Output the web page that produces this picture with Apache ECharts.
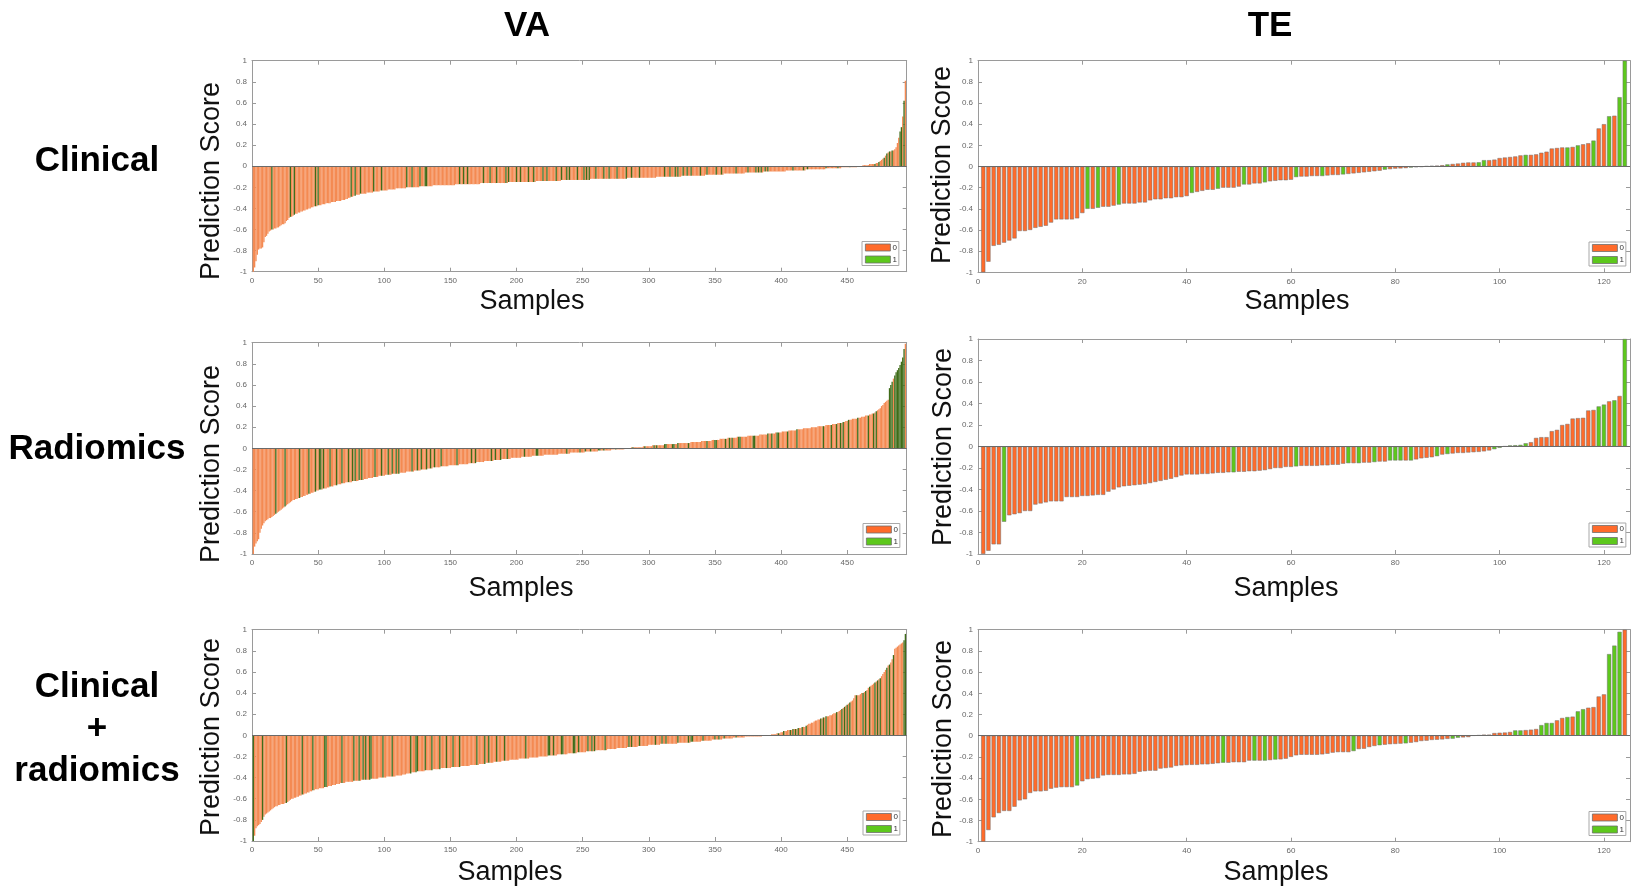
<!DOCTYPE html>
<html>
<head>
<meta charset="utf-8">
<script src="https://cdn.jsdelivr.net/npm/echarts@6/dist/echarts.min.js"></script>
<style>
html,body{margin:0;padding:0;background:#fff;}
#chart{width:1633px;height:888px;}
</style>
</head>
<body>
<div id="chart"></div>
<script>
// ---- tick labels ----
const scoreTicks = [-1, -0.8, -0.6, -0.4, -0.2, 0, 0.2, 0.4, 0.6, 0.8, 1];
const vaTicks = [0, 50, 100, 150, 200, 250, 300, 350, 400, 450];
const teTicks = [0, 20, 40, 60, 80, 100, 120];
const cohorts = ['VA', 'TE'];
const models = ['Clinical', 'Radiomics', 'Clinical\n+\nradiomics'];
const classNames = ['0', '1'];

// ---- sorted prediction scores, VA cohort (494 samples) ----
const vaClinical = [
-1.00,-0.96,-0.90,-0.84,-0.79,-0.78,-0.78,-0.77,-0.72,-0.67,
-0.66,-0.64,-0.62,-0.61,-0.60,-0.60,-0.59,-0.59,-0.58,-0.58,
-0.57,-0.56,-0.55,-0.55,-0.54,-0.52,-0.51,-0.49,-0.48,-0.48,
-0.47,-0.46,-0.45,-0.45,-0.44,-0.44,-0.43,-0.43,-0.42,-0.42,
-0.41,-0.41,-0.40,-0.40,-0.39,-0.39,-0.38,-0.38,-0.38,-0.37,
-0.37,-0.37,-0.36,-0.36,-0.36,-0.35,-0.35,-0.35,-0.35,-0.34,
-0.34,-0.34,-0.34,-0.33,-0.33,-0.33,-0.33,-0.32,-0.32,-0.32,
-0.31,-0.31,-0.30,-0.30,-0.29,-0.29,-0.28,-0.28,-0.27,-0.27,
-0.27,-0.26,-0.26,-0.26,-0.26,-0.26,-0.25,-0.25,-0.25,-0.25,
-0.25,-0.24,-0.24,-0.24,-0.24,-0.24,-0.23,-0.23,-0.23,-0.23,
-0.23,-0.23,-0.22,-0.22,-0.22,-0.22,-0.22,-0.22,-0.21,-0.21,
-0.21,-0.21,-0.21,-0.21,-0.21,-0.21,-0.20,-0.20,-0.20,-0.20,
-0.20,-0.20,-0.20,-0.20,-0.20,-0.20,-0.19,-0.19,-0.19,-0.19,
-0.19,-0.19,-0.19,-0.19,-0.19,-0.19,-0.18,-0.18,-0.18,-0.18,
-0.18,-0.18,-0.18,-0.18,-0.18,-0.18,-0.18,-0.18,-0.18,-0.18,
-0.18,-0.18,-0.18,-0.17,-0.17,-0.17,-0.17,-0.17,-0.17,-0.17,
-0.17,-0.17,-0.17,-0.17,-0.17,-0.17,-0.17,-0.17,-0.17,-0.17,
-0.17,-0.17,-0.16,-0.16,-0.16,-0.16,-0.16,-0.16,-0.16,-0.16,
-0.16,-0.16,-0.16,-0.16,-0.16,-0.16,-0.16,-0.16,-0.16,-0.16,
-0.16,-0.16,-0.16,-0.15,-0.15,-0.15,-0.15,-0.15,-0.15,-0.15,
-0.15,-0.15,-0.15,-0.15,-0.15,-0.15,-0.15,-0.15,-0.15,-0.15,
-0.15,-0.15,-0.15,-0.15,-0.14,-0.14,-0.14,-0.14,-0.14,-0.14,
-0.14,-0.14,-0.14,-0.14,-0.14,-0.14,-0.14,-0.14,-0.14,-0.14,
-0.14,-0.14,-0.14,-0.13,-0.13,-0.13,-0.13,-0.13,-0.13,-0.13,
-0.13,-0.13,-0.13,-0.13,-0.13,-0.13,-0.13,-0.13,-0.13,-0.13,
-0.13,-0.13,-0.13,-0.13,-0.13,-0.12,-0.12,-0.12,-0.12,-0.12,
-0.12,-0.12,-0.12,-0.12,-0.12,-0.12,-0.12,-0.12,-0.12,-0.12,
-0.12,-0.12,-0.12,-0.12,-0.12,-0.12,-0.12,-0.12,-0.12,-0.12,
-0.12,-0.12,-0.12,-0.11,-0.11,-0.11,-0.11,-0.11,-0.11,-0.11,
-0.11,-0.11,-0.11,-0.11,-0.11,-0.11,-0.11,-0.11,-0.11,-0.11,
-0.11,-0.11,-0.11,-0.11,-0.11,-0.10,-0.10,-0.10,-0.10,-0.10,
-0.10,-0.10,-0.10,-0.10,-0.10,-0.10,-0.10,-0.10,-0.10,-0.10,
-0.10,-0.10,-0.10,-0.10,-0.09,-0.09,-0.09,-0.09,-0.09,-0.09,
-0.09,-0.09,-0.09,-0.09,-0.09,-0.09,-0.09,-0.09,-0.09,-0.09,
-0.09,-0.09,-0.08,-0.08,-0.08,-0.08,-0.08,-0.08,-0.08,-0.08,
-0.08,-0.08,-0.08,-0.08,-0.08,-0.08,-0.07,-0.07,-0.07,-0.07,
-0.07,-0.07,-0.07,-0.07,-0.07,-0.07,-0.07,-0.07,-0.07,-0.07,
-0.07,-0.07,-0.06,-0.06,-0.06,-0.06,-0.06,-0.06,-0.06,-0.06,
-0.06,-0.06,-0.06,-0.06,-0.06,-0.06,-0.05,-0.05,-0.05,-0.05,
-0.05,-0.05,-0.05,-0.05,-0.05,-0.05,-0.05,-0.05,-0.05,-0.05,
-0.05,-0.05,-0.05,-0.04,-0.04,-0.04,-0.04,-0.04,-0.04,-0.04,
-0.04,-0.04,-0.04,-0.04,-0.04,-0.04,-0.04,-0.04,-0.03,-0.03,
-0.03,-0.03,-0.03,-0.03,-0.03,-0.03,-0.03,-0.03,-0.03,-0.03,
-0.03,-0.03,-0.03,-0.02,-0.02,-0.02,-0.02,-0.02,-0.02,-0.02,
-0.02,-0.02,-0.02,-0.02,-0.02,-0.01,-0.01,-0.01,-0.01,-0.01,
-0.01,-0.01,-0.01,-0.01,-0.01,-0.01,-0.01,0.00,0.00,0.00,
0.00,0.01,0.01,0.01,0.01,0.01,0.02,0.02,0.02,0.02,
0.02,0.03,0.03,0.04,0.05,0.06,0.07,0.08,0.10,0.12,
0.13,0.14,0.14,0.15,0.15,0.16,0.18,0.22,0.27,0.33,
0.37,0.47,0.62,0.81
];
const vaClinicalPos = [15,29,32,48,50,75,78,82,92,98,117,121,127,131,132,157,160,163,175,180,185,192,194,200,203,209,213,220,223,230,234,238,240,246,251,253,255,260,266,270,276,283,287,293,312,316,320,322,326,329,332,339,344,351,355,366,375,381,383,385,388,390,409,417,420,434,443,452,471,474,478,480,482,484,490,491,493];

const vaRadiomics = [
-1.00,-0.93,-0.90,-0.88,-0.86,-0.80,-0.76,-0.73,-0.71,-0.69,
-0.68,-0.67,-0.66,-0.66,-0.65,-0.64,-0.63,-0.62,-0.61,-0.60,
-0.59,-0.58,-0.57,-0.56,-0.55,-0.54,-0.53,-0.52,-0.51,-0.50,
-0.49,-0.49,-0.48,-0.48,-0.47,-0.47,-0.46,-0.46,-0.45,-0.45,
-0.44,-0.44,-0.43,-0.43,-0.42,-0.42,-0.41,-0.41,-0.40,-0.40,
-0.39,-0.39,-0.39,-0.38,-0.38,-0.38,-0.37,-0.37,-0.36,-0.36,
-0.36,-0.35,-0.35,-0.35,-0.34,-0.34,-0.34,-0.33,-0.33,-0.33,
-0.32,-0.32,-0.32,-0.32,-0.32,-0.31,-0.31,-0.31,-0.31,-0.31,
-0.30,-0.30,-0.30,-0.30,-0.29,-0.29,-0.29,-0.28,-0.28,-0.28,
-0.28,-0.27,-0.27,-0.27,-0.27,-0.26,-0.26,-0.26,-0.26,-0.26,
-0.25,-0.25,-0.25,-0.25,-0.25,-0.24,-0.24,-0.24,-0.24,-0.24,
-0.24,-0.23,-0.23,-0.23,-0.23,-0.23,-0.22,-0.22,-0.22,-0.22,
-0.22,-0.22,-0.21,-0.21,-0.21,-0.21,-0.21,-0.20,-0.20,-0.20,
-0.20,-0.20,-0.19,-0.19,-0.19,-0.19,-0.18,-0.18,-0.18,-0.18,
-0.18,-0.18,-0.17,-0.17,-0.17,-0.17,-0.17,-0.17,-0.16,-0.16,
-0.16,-0.16,-0.16,-0.16,-0.16,-0.16,-0.15,-0.15,-0.15,-0.15,
-0.15,-0.15,-0.15,-0.14,-0.14,-0.14,-0.14,-0.14,-0.14,-0.13,
-0.13,-0.13,-0.13,-0.13,-0.13,-0.12,-0.12,-0.12,-0.12,-0.12,
-0.12,-0.12,-0.11,-0.11,-0.11,-0.11,-0.11,-0.11,-0.10,-0.10,
-0.10,-0.10,-0.10,-0.10,-0.10,-0.09,-0.09,-0.09,-0.09,-0.09,
-0.09,-0.09,-0.09,-0.08,-0.08,-0.08,-0.08,-0.08,-0.08,-0.08,
-0.08,-0.07,-0.07,-0.07,-0.07,-0.07,-0.07,-0.07,-0.07,-0.07,
-0.06,-0.06,-0.06,-0.06,-0.06,-0.06,-0.06,-0.06,-0.06,-0.06,
-0.06,-0.05,-0.05,-0.05,-0.05,-0.05,-0.05,-0.05,-0.05,-0.05,
-0.04,-0.04,-0.04,-0.04,-0.04,-0.04,-0.04,-0.04,-0.04,-0.04,
-0.04,-0.03,-0.03,-0.03,-0.03,-0.03,-0.03,-0.03,-0.03,-0.03,
-0.03,-0.02,-0.02,-0.02,-0.02,-0.02,-0.02,-0.02,-0.02,-0.02,
-0.02,-0.01,-0.01,-0.01,-0.01,-0.01,-0.01,-0.01,-0.01,-0.01,
-0.01,0.00,0.00,0.00,0.00,0.00,0.01,0.01,0.01,0.01,
0.01,0.01,0.01,0.01,0.01,0.02,0.02,0.02,0.02,0.02,
0.02,0.02,0.03,0.03,0.03,0.03,0.03,0.03,0.03,0.03,
0.03,0.04,0.04,0.04,0.04,0.04,0.04,0.04,0.04,0.04,
0.04,0.05,0.05,0.05,0.05,0.05,0.05,0.05,0.05,0.05,
0.05,0.06,0.06,0.06,0.06,0.06,0.06,0.06,0.06,0.07,
0.07,0.07,0.07,0.07,0.07,0.07,0.07,0.08,0.08,0.08,
0.08,0.08,0.08,0.09,0.09,0.09,0.09,0.09,0.09,0.10,
0.10,0.10,0.10,0.10,0.10,0.10,0.11,0.11,0.11,0.11,
0.11,0.11,0.11,0.11,0.12,0.12,0.12,0.12,0.12,0.12,
0.12,0.12,0.12,0.13,0.13,0.13,0.13,0.13,0.13,0.14,
0.14,0.14,0.14,0.14,0.14,0.15,0.15,0.15,0.15,0.15,
0.16,0.16,0.16,0.16,0.16,0.17,0.17,0.17,0.17,0.17,
0.17,0.18,0.18,0.18,0.18,0.18,0.19,0.19,0.19,0.19,
0.19,0.19,0.20,0.20,0.20,0.20,0.20,0.21,0.21,0.21,
0.21,0.21,0.21,0.22,0.22,0.22,0.22,0.22,0.23,0.23,
0.23,0.23,0.24,0.24,0.24,0.24,0.25,0.25,0.26,0.26,
0.27,0.27,0.27,0.28,0.28,0.28,0.28,0.29,0.29,0.29,
0.30,0.30,0.30,0.31,0.31,0.31,0.32,0.32,0.33,0.33,
0.34,0.35,0.36,0.37,0.38,0.40,0.41,0.43,0.44,0.45,
0.46,0.57,0.60,0.63,0.66,0.69,0.72,0.74,0.76,0.79,
0.82,0.86,0.94,0.99
];
const vaRadiomicsPos = [18,25,36,43,48,51,52,54,59,64,68,73,76,78,81,83,93,98,103,106,109,111,121,125,128,132,135,138,143,155,166,169,181,184,188,193,206,215,216,238,248,252,256,262,263,266,275,288,297,304,306,312,313,318,319,322,330,344,350,351,358,361,363,368,369,379,380,390,393,397,398,405,412,432,438,442,445,447,451,458,466,470,472,482,483,484,486,487,488,489,490,491,492,493];

const vaCombined = [
-1.00,-0.95,-0.88,-0.86,-0.85,-0.84,-0.82,-0.80,-0.77,-0.75,
-0.74,-0.73,-0.72,-0.71,-0.70,-0.69,-0.68,-0.67,-0.67,-0.66,
-0.66,-0.65,-0.65,-0.65,-0.64,-0.64,-0.63,-0.62,-0.61,-0.60,
-0.60,-0.59,-0.59,-0.58,-0.58,-0.57,-0.57,-0.56,-0.56,-0.55,
-0.55,-0.54,-0.54,-0.53,-0.53,-0.52,-0.52,-0.51,-0.51,-0.51,
-0.50,-0.50,-0.50,-0.50,-0.49,-0.49,-0.49,-0.48,-0.48,-0.48,
-0.47,-0.47,-0.47,-0.46,-0.46,-0.46,-0.45,-0.45,-0.45,-0.45,
-0.44,-0.44,-0.44,-0.44,-0.44,-0.44,-0.43,-0.43,-0.43,-0.43,
-0.43,-0.43,-0.42,-0.42,-0.42,-0.42,-0.42,-0.42,-0.42,-0.41,
-0.41,-0.41,-0.41,-0.41,-0.41,-0.40,-0.40,-0.40,-0.40,-0.40,
-0.40,-0.39,-0.39,-0.39,-0.39,-0.39,-0.39,-0.39,-0.38,-0.38,
-0.38,-0.38,-0.38,-0.37,-0.37,-0.37,-0.36,-0.36,-0.36,-0.36,
-0.35,-0.35,-0.35,-0.35,-0.34,-0.34,-0.34,-0.34,-0.34,-0.34,
-0.33,-0.33,-0.33,-0.33,-0.33,-0.33,-0.32,-0.32,-0.32,-0.32,
-0.32,-0.32,-0.31,-0.31,-0.31,-0.31,-0.31,-0.31,-0.31,-0.31,
-0.30,-0.30,-0.30,-0.30,-0.30,-0.30,-0.30,-0.29,-0.29,-0.29,
-0.29,-0.29,-0.29,-0.29,-0.28,-0.28,-0.28,-0.28,-0.28,-0.28,
-0.28,-0.27,-0.27,-0.27,-0.27,-0.27,-0.26,-0.26,-0.26,-0.26,
-0.26,-0.26,-0.25,-0.25,-0.25,-0.25,-0.25,-0.25,-0.24,-0.24,
-0.24,-0.24,-0.24,-0.24,-0.23,-0.23,-0.23,-0.23,-0.23,-0.23,
-0.23,-0.22,-0.22,-0.22,-0.22,-0.22,-0.22,-0.22,-0.22,-0.21,
-0.21,-0.21,-0.21,-0.21,-0.21,-0.21,-0.20,-0.20,-0.20,-0.20,
-0.20,-0.20,-0.20,-0.19,-0.19,-0.19,-0.19,-0.19,-0.19,-0.19,
-0.18,-0.18,-0.18,-0.18,-0.18,-0.18,-0.18,-0.18,-0.17,-0.17,
-0.17,-0.17,-0.17,-0.17,-0.17,-0.16,-0.16,-0.16,-0.16,-0.16,
-0.16,-0.16,-0.15,-0.15,-0.15,-0.15,-0.15,-0.15,-0.15,-0.14,
-0.14,-0.14,-0.14,-0.14,-0.14,-0.14,-0.14,-0.14,-0.13,-0.13,
-0.13,-0.13,-0.13,-0.13,-0.13,-0.12,-0.12,-0.12,-0.12,-0.12,
-0.12,-0.12,-0.12,-0.11,-0.11,-0.11,-0.11,-0.11,-0.11,-0.11,
-0.11,-0.10,-0.10,-0.10,-0.10,-0.10,-0.10,-0.10,-0.10,-0.09,
-0.09,-0.09,-0.09,-0.09,-0.09,-0.09,-0.09,-0.09,-0.08,-0.08,
-0.08,-0.08,-0.08,-0.08,-0.08,-0.08,-0.08,-0.08,-0.08,-0.08,
-0.08,-0.07,-0.07,-0.07,-0.07,-0.07,-0.07,-0.07,-0.07,-0.07,
-0.07,-0.06,-0.06,-0.06,-0.06,-0.06,-0.06,-0.06,-0.06,-0.05,
-0.05,-0.05,-0.05,-0.05,-0.05,-0.05,-0.05,-0.04,-0.04,-0.04,
-0.04,-0.04,-0.04,-0.04,-0.04,-0.03,-0.03,-0.03,-0.03,-0.03,
-0.03,-0.03,-0.03,-0.02,-0.02,-0.02,-0.02,-0.02,-0.02,-0.02,
-0.02,-0.02,-0.01,-0.01,-0.01,-0.01,-0.01,-0.01,-0.01,-0.01,
-0.01,-0.01,-0.01,-0.01,-0.01,0.00,0.00,0.00,0.00,0.00,
0.00,0.00,0.01,0.01,0.01,0.01,0.02,0.02,0.02,0.03,
0.03,0.04,0.04,0.04,0.05,0.05,0.05,0.05,0.06,0.06,
0.06,0.06,0.07,0.07,0.07,0.08,0.08,0.08,0.09,0.10,
0.11,0.11,0.12,0.12,0.13,0.14,0.14,0.15,0.15,0.16,
0.16,0.17,0.17,0.18,0.18,0.18,0.19,0.19,0.20,0.21,
0.21,0.22,0.22,0.23,0.24,0.25,0.26,0.27,0.28,0.29,
0.30,0.31,0.32,0.33,0.35,0.38,0.38,0.38,0.38,0.39,
0.40,0.40,0.41,0.42,0.43,0.45,0.46,0.47,0.48,0.49,
0.50,0.51,0.52,0.53,0.54,0.56,0.58,0.60,0.62,0.64,
0.66,0.67,0.69,0.72,0.76,0.82,0.83,0.84,0.85,0.86,
0.87,0.88,0.90,0.96
];
const vaCombinedPos = [1,8,26,38,46,55,56,68,77,81,84,86,89,90,99,106,120,124,125,131,136,142,147,152,157,170,176,179,185,191,207,224,225,228,234,235,243,244,247,254,257,259,267,285,287,293,305,310,313,322,330,332,333,341,350,353,357,366,398,402,407,409,411,413,416,419,430,432,434,442,446,448,450,452,457,462,464,467,471,473,475,480,482,485,493,494];

// ---- sorted prediction scores, TE cohort (124 samples) ----
const teClinical = [
-1.00,-0.90,-0.75,-0.74,-0.72,-0.70,-0.68,-0.61,-0.61,-0.60,
-0.58,-0.57,-0.56,-0.53,-0.50,-0.50,-0.50,-0.50,-0.49,-0.44,
-0.40,-0.40,-0.39,-0.38,-0.38,-0.37,-0.36,-0.35,-0.35,-0.35,
-0.34,-0.34,-0.32,-0.31,-0.31,-0.30,-0.30,-0.29,-0.29,-0.28,
-0.25,-0.24,-0.23,-0.22,-0.22,-0.21,-0.20,-0.20,-0.20,-0.19,
-0.17,-0.17,-0.16,-0.16,-0.15,-0.14,-0.135,-0.13,-0.13,-0.125,
-0.10,-0.095,-0.095,-0.09,-0.09,-0.09,-0.085,-0.08,-0.08,-0.075,
-0.07,-0.065,-0.06,-0.055,-0.05,-0.045,-0.04,-0.03,-0.025,-0.02,
-0.018,-0.015,-0.01,-0.006,-0.003,0.003,0.006,0.008,0.012,0.02,
0.024,0.028,0.035,0.038,0.038,0.04,0.06,0.06,0.065,0.08,
0.085,0.09,0.095,0.105,0.11,0.11,0.115,0.13,0.14,0.17,
0.175,0.18,0.18,0.185,0.20,0.21,0.22,0.245,0.36,0.40,
0.475,0.48,0.655,1.00
];
const teClinicalPos = [21,23,27,41,46,51,55,61,66,70,78,83,90,96,97,105,113,115,118,121,123,124];

const teRadiomics = [
-1.00,-0.97,-0.91,-0.91,-0.70,-0.64,-0.63,-0.62,-0.60,-0.60,
-0.54,-0.53,-0.52,-0.51,-0.51,-0.51,-0.47,-0.47,-0.47,-0.46,
-0.46,-0.455,-0.45,-0.45,-0.42,-0.40,-0.38,-0.37,-0.365,-0.36,
-0.355,-0.35,-0.34,-0.33,-0.32,-0.31,-0.30,-0.285,-0.27,-0.26,
-0.26,-0.26,-0.255,-0.255,-0.25,-0.245,-0.245,-0.24,-0.24,-0.235,
-0.235,-0.23,-0.23,-0.225,-0.22,-0.21,-0.20,-0.20,-0.19,-0.19,
-0.185,-0.18,-0.18,-0.18,-0.18,-0.175,-0.175,-0.17,-0.17,-0.16,
-0.155,-0.155,-0.155,-0.15,-0.15,-0.145,-0.14,-0.14,-0.13,-0.13,
-0.13,-0.13,-0.13,-0.12,-0.11,-0.105,-0.10,-0.09,-0.075,-0.07,
-0.065,-0.06,-0.06,-0.056,-0.053,-0.05,-0.045,-0.037,-0.025,-0.012,
0.002,0.01,0.012,0.015,0.03,0.04,0.08,0.087,0.087,0.143,
0.155,0.20,0.21,0.26,0.264,0.267,0.335,0.34,0.373,0.39,
0.42,0.43,0.47,1.00
];
const teRadiomicsPos = [5,49,61,71,73,76,79,80,81,83,88,90,99,100,102,103,104,105,119,120,122,124];

const teCombined = [
-1.00,-0.89,-0.77,-0.73,-0.71,-0.71,-0.67,-0.61,-0.60,-0.54,
-0.525,-0.525,-0.52,-0.50,-0.49,-0.485,-0.485,-0.485,-0.47,-0.43,
-0.41,-0.405,-0.40,-0.375,-0.37,-0.37,-0.37,-0.365,-0.365,-0.36,
-0.34,-0.335,-0.33,-0.33,-0.31,-0.305,-0.30,-0.285,-0.28,-0.277,
-0.275,-0.275,-0.27,-0.27,-0.265,-0.26,-0.255,-0.255,-0.25,-0.25,
-0.25,-0.235,-0.235,-0.235,-0.235,-0.23,-0.225,-0.223,-0.217,-0.20,
-0.185,-0.18,-0.18,-0.18,-0.18,-0.176,-0.17,-0.16,-0.155,-0.155,
-0.155,-0.145,-0.126,-0.123,-0.107,-0.097,-0.09,-0.085,-0.08,-0.078,
-0.075,-0.072,-0.066,-0.06,-0.05,-0.047,-0.04,-0.038,-0.035,-0.03,
-0.028,-0.019,-0.016,-0.013,0.003,0.006,0.01,0.01,0.025,0.028,
0.03,0.035,0.05,0.05,0.053,0.057,0.063,0.10,0.12,0.12,
0.145,0.167,0.176,0.18,0.23,0.25,0.264,0.27,0.37,0.39,
0.77,0.85,0.98,1.00
];
const teCombinedPos = [19,47,53,55,57,72,77,82,91,92,103,104,108,109,110,113,115,116,121,122,123];

// ---- look ----
const FONT = '"Liberation Sans", Arial, Helvetica, sans-serif';
const AXIS_GRAY = '#9a9a9a';
const LABEL_GRAY = '#666';
const ORANGE = '#FF6B2B';
const GREEN = '#5DC81C';
const EDGE = '#6e6e6e';
// dense VA panels: thin bars read as a lighter orange and a dark green
const DENSE = { '0': '#F48A52', '1': '#3F6C19' };

// one entry per panel; positions are in page pixels
const panels = [
  { scores: vaClinical,  pos: vaClinicalPos,  cohort: 'VA', grid: { left: 252, top: 60.7,  width: 654.7, height: 211 },   legend: { left: 862, top: 241.5 }, xTitle: [532, 302], yTitle: [212, 181] },
  { scores: teClinical,  pos: teClinicalPos,  cohort: 'TE', grid: { left: 978, top: 60.7,  width: 662,   height: 211.6 }, legend: { left: 1589, top: 242 },  xTitle: [1297, 302], yTitle: [943, 165] },
  { scores: vaRadiomics, pos: vaRadiomicsPos, cohort: 'VA', grid: { left: 252, top: 342.7, width: 654.7, height: 211.3 }, legend: { left: 863, top: 523.5 }, xTitle: [521, 589], yTitle: [212, 464] },
  { scores: teRadiomics, pos: teRadiomicsPos, cohort: 'TE', grid: { left: 978, top: 339,   width: 662,   height: 215 },   legend: { left: 1589, top: 523 },  xTitle: [1286, 589], yTitle: [944, 447] },
  { scores: vaCombined,  pos: vaCombinedPos,  cohort: 'VA', grid: { left: 252, top: 629.7, width: 654.7, height: 211.3 }, legend: { left: 863, top: 811 },   xTitle: [510, 873], yTitle: [212, 737] },
  { scores: teCombined,  pos: teCombinedPos,  cohort: 'TE', grid: { left: 978, top: 629.7, width: 662,   height: 212 },   legend: { left: 1589, top: 811.5 }, xTitle: [1276, 873], yTitle: [944, 739] }
];

function xSpec(cohort) {
  const ticks = cohort === 'VA' ? vaTicks : teTicks;
  const step = ticks[1] - ticks[0];
  const n = cohort === 'VA' ? vaClinical.length : teClinical.length;
  return { ticks, step, min: 0, max: n + 1 };
}

const grid = [], xAxis = [], yAxis = [], series = [], legend = [], graphic = [];

panels.forEach((p, i) => {
  grid.push(Object.assign({ containLabel: false, show: false }, p.grid));
  const xs = xSpec(p.cohort);
  const line = { show: true, onZero: false, lineStyle: { color: AXIS_GRAY, width: 1 } };
  const tick = { show: true, inside: true, length: 4, lineStyle: { color: AXIS_GRAY, width: 1 } };
  const xBase = { gridIndex: i, type: 'value', min: xs.min, max: xs.max, interval: xs.step,
                  axisLine: line, axisTick: tick, splitLine: { show: false } };
  xAxis.push(Object.assign({}, xBase, { position: 'bottom',
    axisLabel: { fontSize: 8, color: LABEL_GRAY, fontFamily: FONT, margin: 5,
                 formatter: v => xs.ticks.indexOf(v) >= 0 ? String(v) : '' } }));
  xAxis.push(Object.assign({}, xBase, { position: 'top', axisLabel: { show: false } }));
  const yBase = { gridIndex: i, type: 'value', min: scoreTicks[0], max: scoreTicks[scoreTicks.length - 1],
                  interval: +(scoreTicks[1] - scoreTicks[0]).toFixed(2),
                  axisLine: line, axisTick: tick, splitLine: { show: false } };
  yAxis.push(Object.assign({}, yBase, { position: 'left',
    axisLabel: { fontSize: 8, color: LABEL_GRAY, fontFamily: FONT, margin: 5,
                 formatter: v => { const r = Math.round(v * 10) / 10; return scoreTicks.indexOf(r) >= 0 ? String(r) : ''; } } }));
  yAxis.push(Object.assign({}, yBase, { position: 'right', axisLabel: { show: false } }));

  const positive = new Set(p.pos);
  const dense = p.cohort === 'VA';
  classNames.forEach(cls => {
    const data = [];
    p.scores.forEach((v, k) => {
      const isPos = positive.has(k + 1);
      if ((cls === '1') === isPos) data.push([k + 1, v]);
    });
    const s = {
      type: 'bar', name: cls, xAxisIndex: 2 * i, yAxisIndex: 2 * i,
      data, barGap: '-100%', barWidth: dense ? '100%' : '80%',
      silent: true, animation: false,
      itemStyle: dense
        ? { color: DENSE[cls], borderWidth: 0 }
        : { color: cls === '0' ? ORANGE : GREEN, borderColor: EDGE, borderWidth: 0.5 },
      z: cls === '1' ? 3 : 2
    };
    if (cls === '0') {
      s.markLine = { silent: true, symbol: 'none', animation: false,
        label: { show: false }, lineStyle: { color: '#6a6a6a', width: 1, type: 'solid' },
        data: [{ yAxis: 0 }] };
    }
    series.push(s);
  });

  legend.push({
    left: p.legend.left, top: p.legend.top, orient: 'vertical',
    itemWidth: 25, itemHeight: 7, itemGap: 4, padding: [2, 2, 2, 3],
    borderColor: '#a8a8a8', borderWidth: 1, backgroundColor: '#fff',
    selectedMode: false, icon: 'rect',
    textStyle: { fontSize: 8, color: '#333', fontFamily: FONT, padding: [0, 0, 0, -3] },
    data: [
      { name: '0', itemStyle: { color: ORANGE, borderColor: EDGE, borderWidth: 0.8 } },
      { name: '1', itemStyle: { color: GREEN, borderColor: EDGE, borderWidth: 0.8 } }
    ]
  });

  graphic.push({ type: 'text', x: p.xTitle[0], y: p.xTitle[1], silent: true,
    style: { text: 'Samples', fontSize: 27, fontFamily: FONT, fill: '#111', align: 'center', verticalAlign: 'middle' } });
  graphic.push({ type: 'text', x: p.yTitle[0], y: p.yTitle[1], rotation: Math.PI / 2, silent: true,
    style: { text: 'Prediction Score', fontSize: 27, fontFamily: FONT, fill: '#111', align: 'center', verticalAlign: 'middle' } });
});

// column and row headings
const colX = [527, 1270];
cohorts.forEach((c, k) => graphic.push({ type: 'text', x: colX[k], y: 26, silent: true,
  style: { text: c, fontSize: 35, fontWeight: 'bold', fontFamily: FONT, fill: '#000', align: 'center', verticalAlign: 'middle' } }));
const rowY = [161, 449, 729];
models.forEach((m, k) => graphic.push({ type: 'text', x: 97, y: rowY[k], silent: true,
  style: { text: m, fontSize: 35, fontWeight: 'bold', fontFamily: FONT, fill: '#000', align: 'center', verticalAlign: 'middle', lineHeight: 42 } }));

const chart = echarts.init(document.getElementById('chart'), null, { renderer: 'canvas' });
chart.setOption({ animation: false, backgroundColor: '#fff', grid, xAxis, yAxis, series, legend, graphic });
</script>
